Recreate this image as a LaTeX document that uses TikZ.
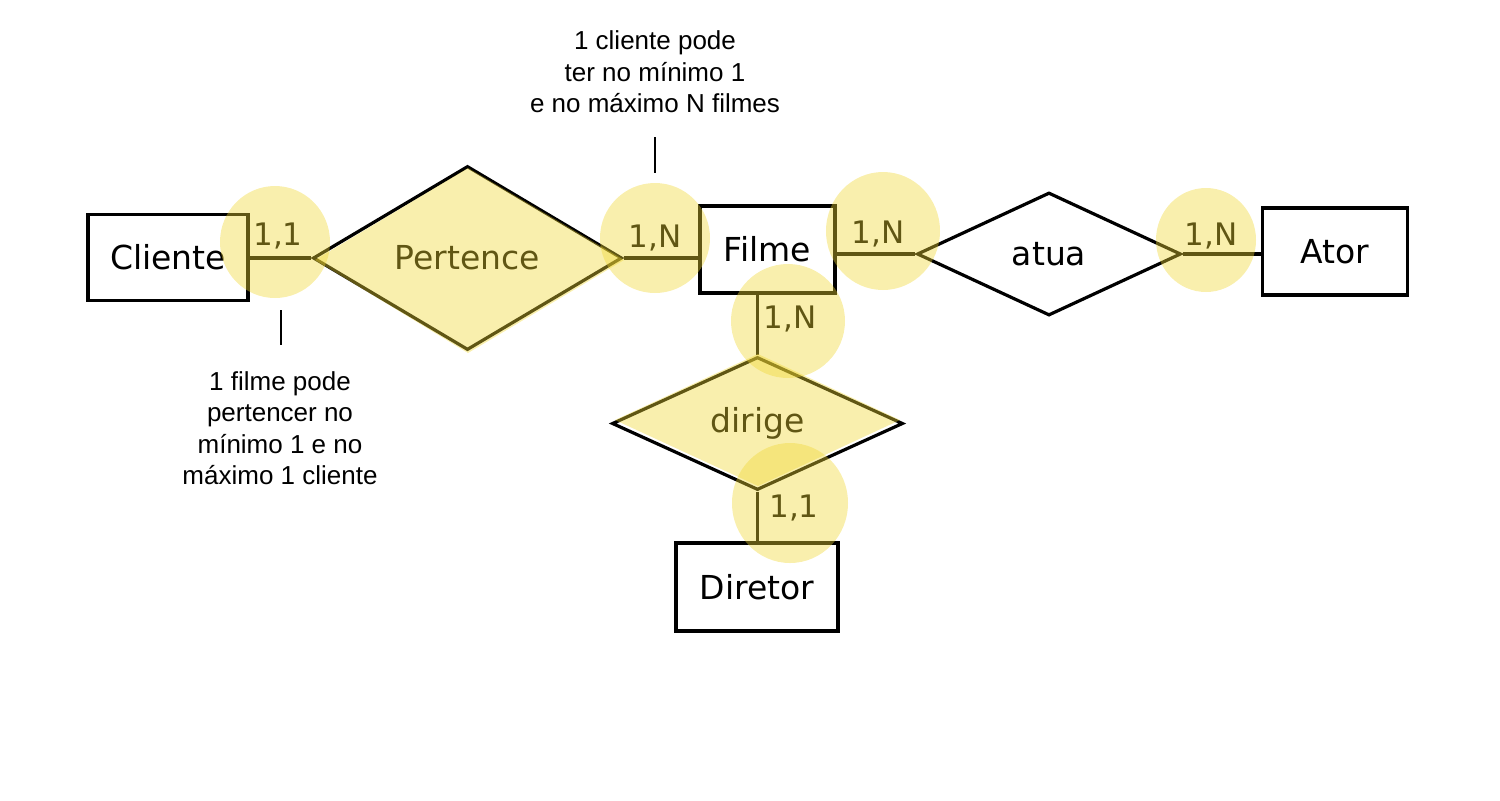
\documentclass[tikz,border=0pt]{standalone}
\usepackage{fontspec}
\setmainfont{DejaVu Sans}
\newfontfamily\notefont{Liberation Sans}
\usepackage{tikz}
\usetikzlibrary{shapes.geometric, positioning}
\definecolor{marca}{RGB}{240,215,50}

\begin{document}
\begin{tikzpicture}[x=0.5pt, y=-0.5pt,
    entity/.style={draw, line width=1.6pt, inner sep=0pt, font=\fontsize{16.5pt}{18pt}\selectfont},
    relation/.style={draw, diamond, line width=1.6pt, inner sep=0pt, font=\fontsize{16.5pt}{18pt}\selectfont},
    card/.style={anchor=base, inner sep=0pt, font=\fontsize{15.5pt}{17pt}\selectfont},
    note/.style={align=center, inner sep=0pt, font=\notefont\fontsize{13pt}{15.7pt}\selectfont},
    lig/.style={line width=1.6pt},
    realce/.style={fill=marca, fill opacity=0.4}]
    \useasboundingbox (0,0) rectangle (1500,800);

    % --- entidades ---
    \node[entity, minimum width=80pt, minimum height=43pt] (cliente) at (168,257.5) {Cliente};
    \node[entity, minimum width=67.5pt, minimum height=43.5pt] (filme) at (767.5,249.5) {Filme};
    \node[entity, minimum width=72.5pt, minimum height=43.5pt] (ator) at (1335,251.5) {Ator};
    \node[entity, minimum width=81pt, minimum height=44pt] (diretor) at (757,587) {Diretor};

    % --- relacionamentos ---
    \node[relation, minimum width=154.5pt, minimum height=92pt] (pertence) at (467.5,258) {Pertence};
    \node[relation, minimum width=132pt, minimum height=61.5pt] (atua) at (1049,254) {atua};
    \node[relation, minimum width=145.5pt, minimum height=66.5pt] (dirige) at (757.5,423.5) {dirige};

    % --- ligacoes ---
    \draw[lig] (pertence.west -| cliente.east) -- (pertence.west);
    \draw[lig] (pertence.east) -- (pertence.east -| filme.west);
    \draw[lig] (atua.west -| filme.east) -- (atua.west);
    \draw[lig] (atua.east) -- (atua.east -| ator.west);
    \draw[lig] (dirige.north |- filme.south) -- (dirige.north);
    \draw[lig] (dirige.south) -- (dirige.south |- diretor.north);

    % --- cardinalidades ---
    \node[card] (cardCli) at (278,245) {1,1};
    \node[card] (cardFilA) at (655,247) {1,N};
    \node[card] (cardFilB) at (878,243) {1,N};
    \node[card] (cardAtor) at (1211,245) {1,N};
    \node[card] (cardFilC) at (790,328) {1,N};
    \node[card] (cardDir) at (794,517) {1,1};

    % --- notas ---
    \node[note] (notaCima) at (655,72) {1 cliente pode\\ter no mínimo 1\\e no máximo N filmes};
    \coordinate (tracoA1) at (655,137);
    \coordinate (tracoA2) at (655,173);
    \draw[line width=1pt] (tracoA1) -- (tracoA2);

    \node[note] (notaBaixo) at (280,428) {1 filme pode\\pertencer no\\mínimo 1 e no\\máximo 1 cliente};
    \coordinate (tracoB1) at (281,310);
    \coordinate (tracoB2) at (281,345);
    \draw[line width=1pt] (tracoB1) -- (tracoB2);

    % --- realces ---
    \fill[realce] (468,168) -- (624,260) -- (468,353) -- (315,260) -- cycle;
    \fill[realce] (758,354) -- (900,420) -- (758,486) -- (615,420) -- cycle;
    \fill[realce] (275,242) ellipse[x radius=55, y radius=56];
    \fill[realce] (655,238) ellipse[x radius=55, y radius=55];
    \fill[realce] (883,231) ellipse[x radius=57, y radius=59];
    \fill[realce] (1206,240) ellipse[x radius=50, y radius=52];
    \fill[realce] (788,321) ellipse[x radius=57, y radius=57];
    \fill[realce] (790,503) ellipse[x radius=58, y radius=60];
\end{tikzpicture}
\end{document}
